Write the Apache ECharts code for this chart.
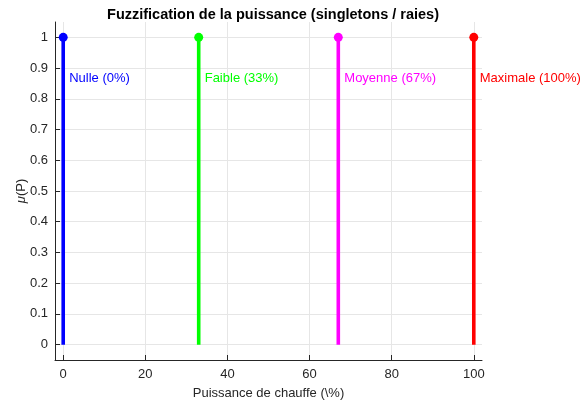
<!DOCTYPE html>
<html>
<head>
<meta charset="utf-8">
<script src="https://cdn.jsdelivr.net/npm/echarts@6/dist/echarts.min.js"></script>
<style>
  html, body { margin: 0; padding: 0; background: #fff; }
  #chart { width: 582px; height: 405px; }
</style>
</head>
<body>
<div id="chart"></div>
<script>
// Singleton membership functions for heater power levels
const levels = ['Nulle', 'Faible', 'Moyenne', 'Maximale'];
const power = [0, 33, 67, 100];          // % of heating power
const membership = [1, 1, 1, 1];         // singleton height
const colors = ['#0000ff', '#00ff00', '#ff00ff', '#ff0000'];
const xTicks = [0, 20, 40, 60, 80, 100];
const yTicks = [0, 0.1, 0.2, 0.3, 0.4, 0.5, 0.6, 0.7, 0.8, 0.9, 1];
const labelHeight = 0.865;

const FONT = '"Liberation Sans", Arial, Helvetica, sans-serif';
const AXIS_COLOR = '#262626';
const GRID_COLOR = '#e6e6e6';

const series = [];

// Vertical stems
levels.forEach((name, i) => {
  series.push({
    type: 'line',
    name: name,
    data: [[power[i], 0], [power[i], membership[i]]],
    symbol: 'none',
    lineStyle: { color: colors[i], width: 3.6 },
    z: 3
  });
});

// Stem heads
series.push({
  type: 'scatter',
  data: power.map((p, i) => ({
    value: [p, membership[i]],
    itemStyle: { color: colors[i], opacity: 1 }
  })),
  symbol: 'circle',
  symbolSize: 9,
  itemStyle: { opacity: 1 },
  z: 4
});

// Text labels next to each stem
series.push({
  type: 'scatter',
  data: power.map((p, i) => ({
    value: [p, labelHeight],
    label: {
      show: true,
      formatter: levels[i] + ' (' + p + '%)',
      color: colors[i]
    }
  })),
  symbolSize: 0,
  itemStyle: { opacity: 1 },
  label: {
    position: 'right',
    distance: 6,
    fontFamily: FONT,
    fontSize: 13
  },
  z: 5
});

const chart = echarts.init(document.getElementById('chart'), null, { renderer: 'canvas' });
chart.setOption({
  animation: false,
  backgroundColor: '#ffffff',
  title: {
    text: 'Fuzzification de la puissance (singletons / raies)',
    left: 268,
    textAlign: 'center',
    top: 2,
    textStyle: { fontFamily: FONT, fontSize: 14.5, fontWeight: 'bold', color: '#000' }
  },
  grid: { left: 55, right: 100, top: 22, bottom: 45, containLabel: false, outerBoundsMode: 'none' },
  xAxis: {
    type: 'value',
    min: -2,
    max: 102,
    name: 'Puissance de chauffe (\\%)',
    nameLocation: 'middle',
    nameGap: 27,
    nameMoveOverlap: false,
    nameTextStyle: { fontFamily: FONT, fontSize: 13, color: AXIS_COLOR },
    axisLine: { show: true, onZero: false, lineStyle: { color: AXIS_COLOR, width: 1 } },
    axisTick: { show: true, inside: true, length: 5, customValues: xTicks, lineStyle: { color: AXIS_COLOR } },
    axisLabel: { customValues: xTicks, margin: 8, fontFamily: FONT, fontSize: 13, color: AXIS_COLOR },
    splitLine: { show: true, lineStyle: { color: GRID_COLOR, width: 1 } }
  },
  yAxis: {
    type: 'value',
    min: -0.05,
    max: 1.05,
    name: '{i|μ}(P)',
    nameLocation: 'middle',
    nameGap: 27,
    nameRotate: 90,
    nameMoveOverlap: false,
    nameTextStyle: {
      fontFamily: FONT, fontSize: 13, color: AXIS_COLOR,
      rich: { i: { fontStyle: 'italic', fontFamily: FONT, fontSize: 13, color: AXIS_COLOR } }
    },
    axisLine: { show: true, onZero: false, lineStyle: { color: AXIS_COLOR, width: 1 } },
    axisTick: { show: true, inside: true, length: 5, customValues: yTicks, lineStyle: { color: AXIS_COLOR } },
    axisLabel: {
      customValues: yTicks, margin: 7, fontFamily: FONT, fontSize: 13, color: AXIS_COLOR,
      formatter: v => String(Math.round(v * 10) / 10)
    },
    splitLine: { show: true, lineStyle: { color: GRID_COLOR, width: 1 } }
  },
  series: series
});
</script>
</body>
</html>
